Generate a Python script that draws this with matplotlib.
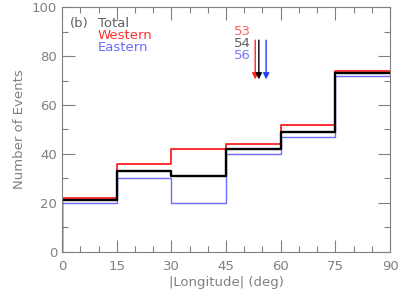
import matplotlib
matplotlib.use("Agg")
import matplotlib.pyplot as plt
import numpy as np
from matplotlib.ticker import MultipleLocator

# bin edges in |longitude| (deg)
edges = [0, 15, 30, 45, 60, 75, 90]

# number of events per bin
total = [21, 33, 31, 42, 49, 73]
western = [22, 36, 42, 44, 52, 74]
eastern = [20, 30, 20, 40, 47, 72]

# mean longitudes marked with arrows
mean_labels = ["53", "54", "56"]
mean_values = [53, 54, 56]

GRAY = "#808080"

fig = plt.figure(figsize=(4.11, 2.97), dpi=100)
ax = fig.add_axes([0.151, 0.152, 0.798, 0.824])


def draw_hist(values, color, lw):
    # step outline, starting from the baseline at the left edge
    x = np.r_[edges[0], edges]
    y = np.r_[0, values, values[-1]]
    ax.step(x, y, where="post", color=color, lw=lw)


draw_hist(eastern, "#6b6bff", 1.0)
draw_hist(western, "#ff2020", 1.3)
draw_hist(total, "black", 1.7)

# arrows for the means
arrow_colors = ["#ff2020", "black", "#2040ff"]
for val, c in zip(mean_values, arrow_colors):
    ax.annotate("", xy=(val, 70.5), xytext=(val, 86.5),
                arrowprops=dict(arrowstyle="-|>", color=c, lw=1.0,
                                mutation_scale=9, shrinkA=0, shrinkB=0))

text_colors = ["#ff6060", "#606060", "#7878ff"]
for i, (lab, c) in enumerate(zip(mean_labels, text_colors)):
    ax.text(51.8, 90.2 - i * 5.0, lab, color=c, fontsize=9.5,
            ha="right", va="center")

# legend-like labels
ax.text(2.2, 93.5, "(b)", color="#606060", fontsize=9.5, va="center")
ax.text(9.8, 93.5, "Total", color="#606060", fontsize=9.5, va="center")
ax.text(9.8, 88.5, "Western", color="#ff3030", fontsize=9.5, va="center")
ax.text(9.8, 83.5, "Eastern", color="#6b6bff", fontsize=9.5, va="center")

ax.set_xlim(0, 90)
ax.set_ylim(0, 100)
ax.xaxis.set_major_locator(MultipleLocator(15))
ax.xaxis.set_minor_locator(MultipleLocator(5))
ax.yaxis.set_major_locator(MultipleLocator(20))
ax.yaxis.set_minor_locator(MultipleLocator(10))
ax.tick_params(which="both", direction="in", top=True, right=True,
               colors=GRAY, labelcolor=GRAY, labelsize=9.5)
ax.tick_params(which="major", length=9, width=0.8)
ax.tick_params(which="minor", length=4.5, width=0.8)
ax.tick_params(axis="x", pad=6)
for s in ax.spines.values():
    s.set_color(GRAY)
    s.set_linewidth(0.8)

ax.set_xlabel("|Longitude| (deg)", color=GRAY, fontsize=9.5, labelpad=2)
ax.set_ylabel("Number of Events", color=GRAY, fontsize=9.5, labelpad=4)

fig.savefig("out.png", dpi=100)
